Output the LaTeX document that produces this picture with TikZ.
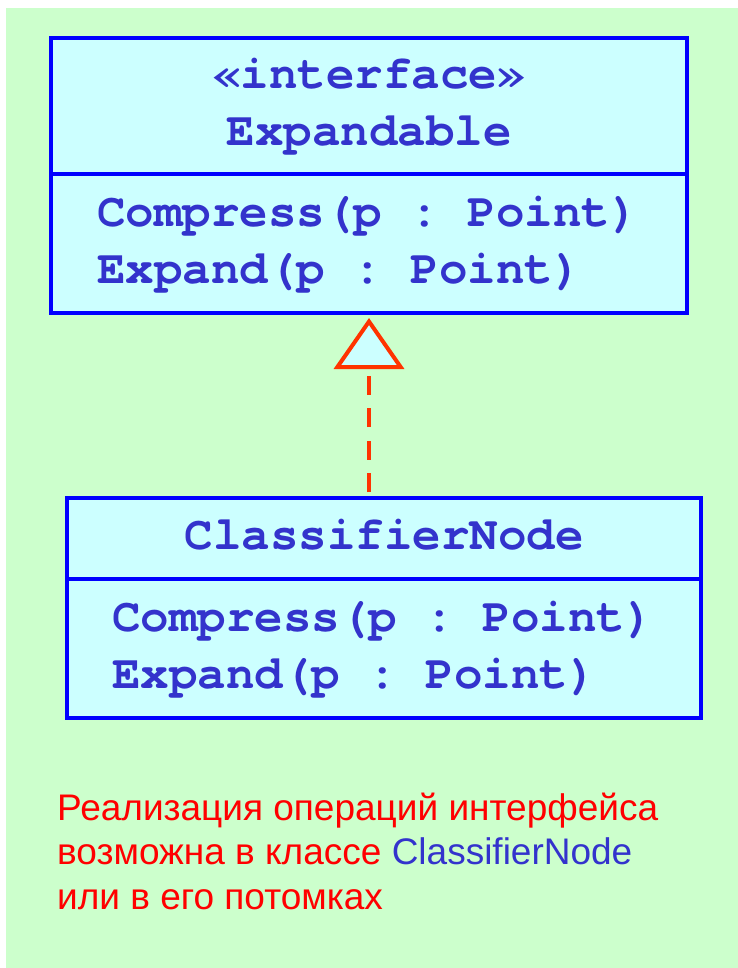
\documentclass[tikz,border=0pt]{standalone}
\usepackage{fontspec}
\newfontfamily\umlfont{texgyrecursor}[Extension=.otf, UprightFont=*-bold,
                                       Ligatures=NoCommon]
\newfontfamily\notefont{Liberation Sans}
\usetikzlibrary{arrows.meta, positioning}
\definecolor{bggreen}{HTML}{CCFFCC}
\definecolor{boxfill}{HTML}{CCFFFF}
\definecolor{boxline}{HTML}{0000FF}
\definecolor{umltext}{HTML}{3333CC}
\definecolor{realize}{HTML}{FF3300}

\begin{document}
\begin{tikzpicture}[
    x=1pt, y=-1pt, node distance=0pt,
    head/.style={draw=boxline, fill=boxfill, line width=4pt, outer sep=0pt,
                 inner sep=0pt, align=center, text=umltext,
                 font=\fontsize{47.5}{57}\selectfont\umlfont,
                 execute at begin node={\spaceskip=0.6em\xspaceskip=0.6em\relax}},
    body/.style={head, align=left, minimum height=139pt, text width=544pt},
    realization/.style={draw=realize, line width=3.5pt,
                        dash pattern=on 19pt off 13.5pt,
                        -{Triangle[length=51pt, width=70pt, line width=4pt,
                                   fill=boxfill]}}
  ]
  \useasboundingbox (0,0) rectangle (738,968);
  \fill[bggreen] (6,8) rectangle (738,968);

  % interface
  \node[head, minimum width=636pt, minimum height=136pt] (ifacehead) at (369,106)
    {\strut\guillemotleft interface\guillemotright\\\strut Expandable};
  \node[body, minimum width=636pt, below=of ifacehead]
    (ifacebody) {\strut Compress(p : Point)\\\strut Expand(p : Point)};

  % class
  \node[head, minimum width=634pt, minimum height=81pt] (clshead) at (384,538.5)
    {\strut ClassifierNode};
  \node[body, minimum width=634pt, below=of clshead]
    (clsbody) {\strut Compress(p : Point)\\\strut Expand(p : Point)};

  \draw[realization, shorten <=6pt, shorten >=5pt]
    (ifacebody.south |- clshead.north) -- (ifacebody.south);

  % note
  \node[anchor=north west, inner sep=0pt, align=left, text=red,
        font=\fontsize{37}{44.5}\selectfont\notefont] (note) at (57,789)
    {\strut Реализация операций интерфейса\\
     \strut возможна в классе \textcolor{umltext}{ClassifierNode}\\
     \strut или в его потомках};
\end{tikzpicture}
\end{document}
